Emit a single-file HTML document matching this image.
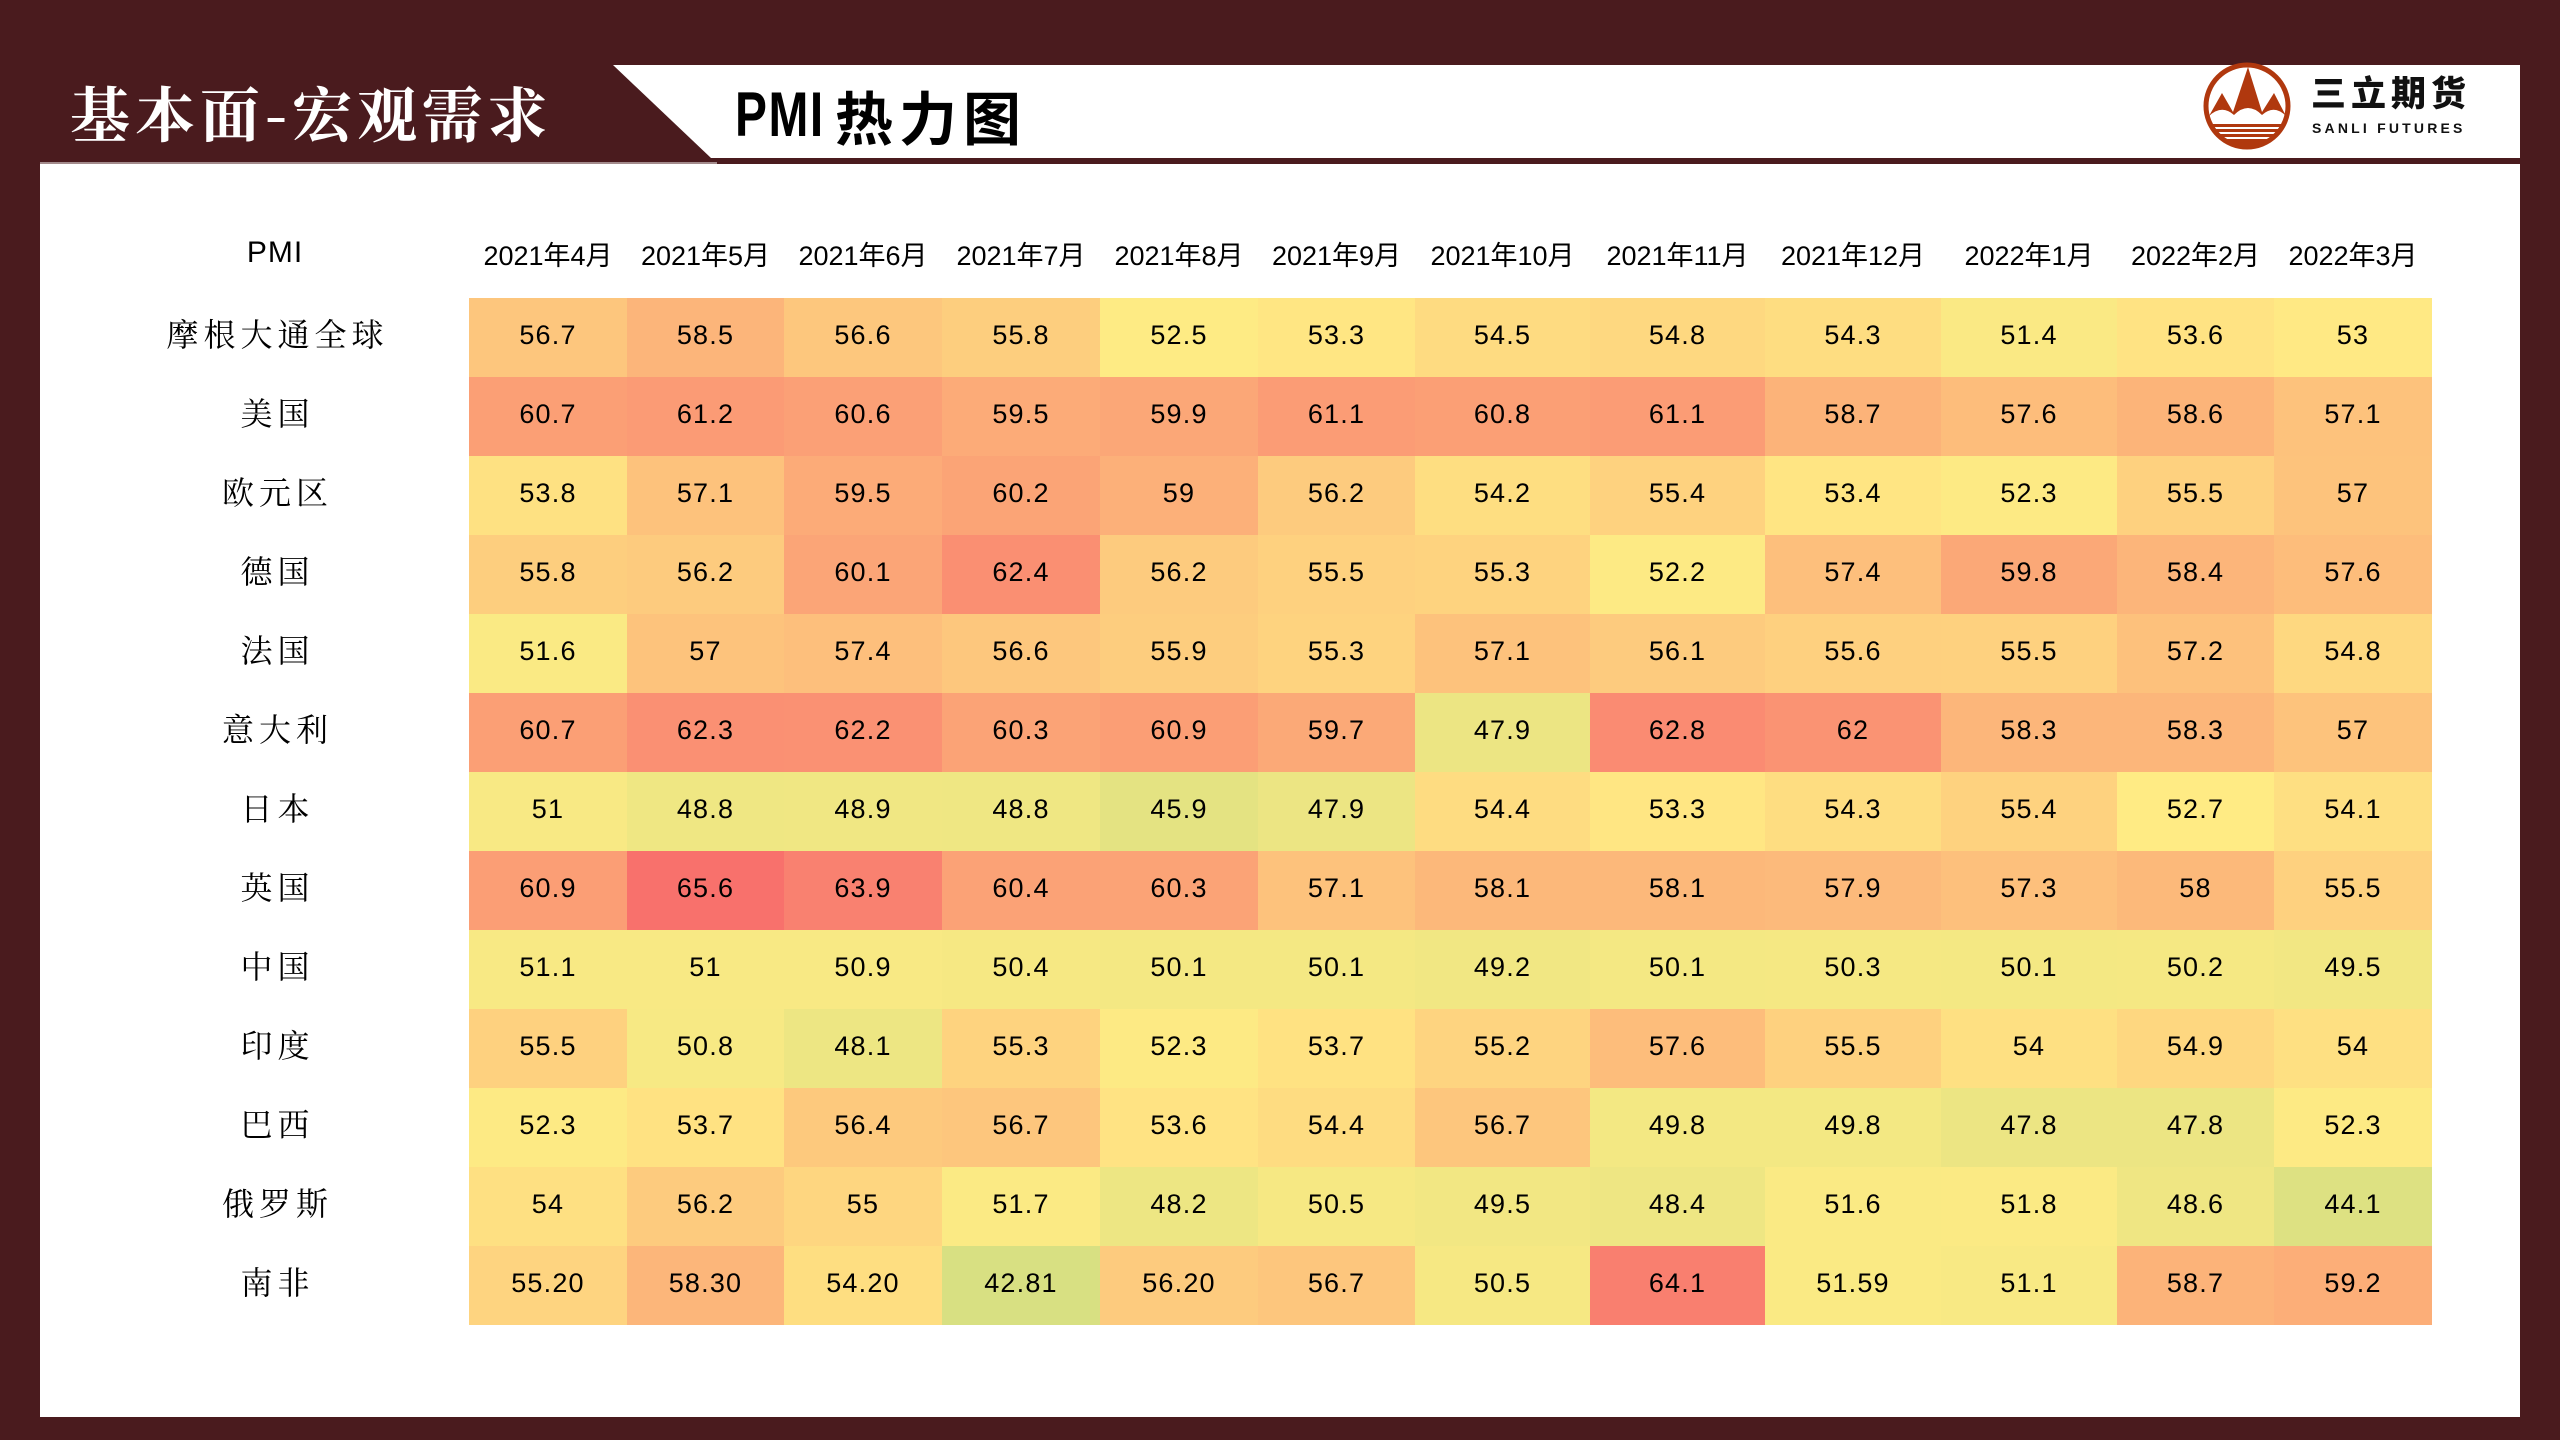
<!DOCTYPE html>
<html><head><meta charset="utf-8">
<style>
*{margin:0;padding:0;box-sizing:border-box;}
html,body{width:2560px;height:1440px;overflow:hidden;}
body{background:#4A1B1E;position:relative;font-family:"Liberation Sans","Noto Sans CJK SC",sans-serif;color:#000;}
.content{position:absolute;left:40px;top:164px;width:2480px;height:1253px;background:#fff;}
.hline{position:absolute;left:40px;top:162px;width:677px;height:2px;background:#a38b8c;}
.band{position:absolute;left:613px;top:65px;width:1907px;height:93px;background:#fff;clip-path:polygon(0 0,100% 0,100% 100%,98px 100%);}
.title1{position:absolute;left:70px;top:76px;font-family:"Noto Serif CJK SC","WenQuanYi Zen Hei",serif;font-weight:700;font-size:60px;line-height:72px;color:#fff;letter-spacing:5px;white-space:nowrap;}
.title2{position:absolute;left:735px;top:80px;height:70px;white-space:nowrap;line-height:70px;}
.title2 .p{display:inline-block;font-family:"Liberation Sans",sans-serif;font-weight:700;font-size:63px;transform:scaleX(0.76);transform-origin:0 50%;width:100px;vertical-align:top;letter-spacing:2px;}
.title2 .c{display:inline-block;font-family:"Noto Sans CJK SC",sans-serif;font-weight:700;font-size:58px;letter-spacing:6px;vertical-align:top;}
.logo{position:absolute;left:2200px;top:60px;}
.lt1{position:absolute;left:2311px;top:70px;font-family:"Noto Sans CJK SC",sans-serif;font-weight:900;font-size:35px;line-height:44px;letter-spacing:5px;color:#111;white-space:nowrap;}
.lt2{position:absolute;left:2312px;top:119px;font-family:"Liberation Sans",sans-serif;font-weight:700;font-size:14px;line-height:18px;letter-spacing:3.2px;color:#111;white-space:nowrap;}
.grid{position:absolute;left:469px;display:grid;grid-template-columns:158px 157px 158px 158px 158px 157px 175px 175px 176px 176px 157px 158px;}
.hdr{top:227px;}
.hdr div{height:52px;display:flex;align-items:center;justify-content:center;font-size:27px;white-space:nowrap;}
.tbl{top:298px;grid-auto-rows:79px;}
.tbl div{display:flex;align-items:center;justify-content:center;font-size:27px;letter-spacing:1.2px;padding-bottom:4px;
 --s:clamp(0, calc((var(--v) - 52.8) / 13.6), 1);
 --t:clamp(0, calc((52.8 - var(--v)) * 0.025), 1);
 background:rgb(calc(255 - 7 * var(--s) - 156 * var(--t)), calc(235 - 130 * var(--s) - 45 * var(--t)), calc(132 - 25 * var(--s) - 9 * var(--t)));}
.pmi{position:absolute;left:150px;top:227px;width:250px;height:52px;display:flex;align-items:center;justify-content:center;font-size:30px;letter-spacing:1px;}
.labels{position:absolute;left:150px;top:298px;width:250px;}
.labels div{height:79px;display:flex;align-items:center;justify-content:center;font-family:"Noto Serif CJK SC","Noto Sans CJK SC",serif;font-size:32px;letter-spacing:5px;padding-left:5px;padding-bottom:9px;}
</style></head><body>
<div class="content"></div>
<div class="hline"></div>
<div class="band"></div>
<div class="title1">基本面-宏观需求</div>
<div class="title2"><span class="p">PMI</span><span class="c">热力图</span></div>
<svg class="logo" width="100" height="100" viewBox="2200 60 100 100" xmlns="http://www.w3.org/2000/svg">
 <defs><clipPath id="cc"><circle cx="2247" cy="106" r="40"/></clipPath></defs>
 <circle cx="2247" cy="106" r="41" fill="#fff" stroke="#B0380E" stroke-width="5"/>
 <path d="M2209 116 L2222 93 L2233 112 L2248 67 L2262 112 L2274 93 L2286 116 Q2274 104 2262 115 Q2248 101 2234 115 Q2222 104 2209 116 Z" fill="#B0380E"/>
 <g clip-path="url(#cc)" fill="#B0380E">
  <rect x="2200" y="124" width="100" height="3"/>
  <rect x="2200" y="129" width="100" height="3"/>
  <rect x="2200" y="134" width="100" height="3"/>
  <rect x="2200" y="139" width="100" height="12"/>
 </g>
</svg>
<div class="lt1">三立期货</div>
<div class="lt2">SANLI FUTURES</div>

<div class="pmi">PMI</div>
<div class="grid hdr">
<div>2021年4月</div><div>2021年5月</div><div>2021年6月</div><div>2021年7月</div><div>2021年8月</div><div>2021年9月</div><div>2021年10月</div><div>2021年11月</div><div>2021年12月</div><div>2022年1月</div><div>2022年2月</div><div>2022年3月</div>
</div>

<div class="labels">
<div>摩根大通全球</div><div>美国</div><div>欧元区</div><div>德国</div><div>法国</div><div>意大利</div><div>日本</div><div>英国</div><div>中国</div><div>印度</div><div>巴西</div><div>俄罗斯</div><div>南非</div>
</div>

<div class="grid tbl">
<div style="--v:56.7">56.7</div><div style="--v:58.5">58.5</div><div style="--v:56.6">56.6</div><div style="--v:55.8">55.8</div><div style="--v:52.5">52.5</div><div style="--v:53.3">53.3</div><div style="--v:54.5">54.5</div><div style="--v:54.8">54.8</div><div style="--v:54.3">54.3</div><div style="--v:51.4">51.4</div><div style="--v:53.6">53.6</div><div style="--v:53">53</div>
<div style="--v:60.7">60.7</div><div style="--v:61.2">61.2</div><div style="--v:60.6">60.6</div><div style="--v:59.5">59.5</div><div style="--v:59.9">59.9</div><div style="--v:61.1">61.1</div><div style="--v:60.8">60.8</div><div style="--v:61.1">61.1</div><div style="--v:58.7">58.7</div><div style="--v:57.6">57.6</div><div style="--v:58.6">58.6</div><div style="--v:57.1">57.1</div>
<div style="--v:53.8">53.8</div><div style="--v:57.1">57.1</div><div style="--v:59.5">59.5</div><div style="--v:60.2">60.2</div><div style="--v:59">59</div><div style="--v:56.2">56.2</div><div style="--v:54.2">54.2</div><div style="--v:55.4">55.4</div><div style="--v:53.4">53.4</div><div style="--v:52.3">52.3</div><div style="--v:55.5">55.5</div><div style="--v:57">57</div>
<div style="--v:55.8">55.8</div><div style="--v:56.2">56.2</div><div style="--v:60.1">60.1</div><div style="--v:62.4">62.4</div><div style="--v:56.2">56.2</div><div style="--v:55.5">55.5</div><div style="--v:55.3">55.3</div><div style="--v:52.2">52.2</div><div style="--v:57.4">57.4</div><div style="--v:59.8">59.8</div><div style="--v:58.4">58.4</div><div style="--v:57.6">57.6</div>
<div style="--v:51.6">51.6</div><div style="--v:57">57</div><div style="--v:57.4">57.4</div><div style="--v:56.6">56.6</div><div style="--v:55.9">55.9</div><div style="--v:55.3">55.3</div><div style="--v:57.1">57.1</div><div style="--v:56.1">56.1</div><div style="--v:55.6">55.6</div><div style="--v:55.5">55.5</div><div style="--v:57.2">57.2</div><div style="--v:54.8">54.8</div>
<div style="--v:60.7">60.7</div><div style="--v:62.3">62.3</div><div style="--v:62.2">62.2</div><div style="--v:60.3">60.3</div><div style="--v:60.9">60.9</div><div style="--v:59.7">59.7</div><div style="--v:47.9">47.9</div><div style="--v:62.8">62.8</div><div style="--v:62">62</div><div style="--v:58.3">58.3</div><div style="--v:58.3">58.3</div><div style="--v:57">57</div>
<div style="--v:51">51</div><div style="--v:48.8">48.8</div><div style="--v:48.9">48.9</div><div style="--v:48.8">48.8</div><div style="--v:45.9">45.9</div><div style="--v:47.9">47.9</div><div style="--v:54.4">54.4</div><div style="--v:53.3">53.3</div><div style="--v:54.3">54.3</div><div style="--v:55.4">55.4</div><div style="--v:52.7">52.7</div><div style="--v:54.1">54.1</div>
<div style="--v:60.9">60.9</div><div style="--v:65.6">65.6</div><div style="--v:63.9">63.9</div><div style="--v:60.4">60.4</div><div style="--v:60.3">60.3</div><div style="--v:57.1">57.1</div><div style="--v:58.1">58.1</div><div style="--v:58.1">58.1</div><div style="--v:57.9">57.9</div><div style="--v:57.3">57.3</div><div style="--v:58">58</div><div style="--v:55.5">55.5</div>
<div style="--v:51.1">51.1</div><div style="--v:51">51</div><div style="--v:50.9">50.9</div><div style="--v:50.4">50.4</div><div style="--v:50.1">50.1</div><div style="--v:50.1">50.1</div><div style="--v:49.2">49.2</div><div style="--v:50.1">50.1</div><div style="--v:50.3">50.3</div><div style="--v:50.1">50.1</div><div style="--v:50.2">50.2</div><div style="--v:49.5">49.5</div>
<div style="--v:55.5">55.5</div><div style="--v:50.8">50.8</div><div style="--v:48.1">48.1</div><div style="--v:55.3">55.3</div><div style="--v:52.3">52.3</div><div style="--v:53.7">53.7</div><div style="--v:55.2">55.2</div><div style="--v:57.6">57.6</div><div style="--v:55.5">55.5</div><div style="--v:54">54</div><div style="--v:54.9">54.9</div><div style="--v:54">54</div>
<div style="--v:52.3">52.3</div><div style="--v:53.7">53.7</div><div style="--v:56.4">56.4</div><div style="--v:56.7">56.7</div><div style="--v:53.6">53.6</div><div style="--v:54.4">54.4</div><div style="--v:56.7">56.7</div><div style="--v:49.8">49.8</div><div style="--v:49.8">49.8</div><div style="--v:47.8">47.8</div><div style="--v:47.8">47.8</div><div style="--v:52.3">52.3</div>
<div style="--v:54">54</div><div style="--v:56.2">56.2</div><div style="--v:55">55</div><div style="--v:51.7">51.7</div><div style="--v:48.2">48.2</div><div style="--v:50.5">50.5</div><div style="--v:49.5">49.5</div><div style="--v:48.4">48.4</div><div style="--v:51.6">51.6</div><div style="--v:51.8">51.8</div><div style="--v:48.6">48.6</div><div style="--v:44.1">44.1</div>
<div style="--v:55.2">55.20</div><div style="--v:58.3">58.30</div><div style="--v:54.2">54.20</div><div style="--v:42.81">42.81</div><div style="--v:56.2">56.20</div><div style="--v:56.7">56.7</div><div style="--v:50.5">50.5</div><div style="--v:64.1">64.1</div><div style="--v:51.59">51.59</div><div style="--v:51.1">51.1</div><div style="--v:58.7">58.7</div><div style="--v:59.2">59.2</div>
</div>
</body></html>
